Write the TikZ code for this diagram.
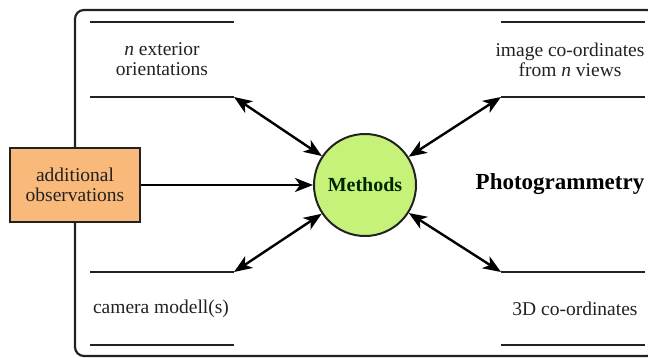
\documentclass[tikz,border=0pt]{standalone}
\usepackage{fontspec}
\setmainfont{Liberation Serif}
\usetikzlibrary{arrows.meta}
\definecolor{boxorange}{HTML}{F9B97A}
\definecolor{circgreen}{HTML}{C6F27A}
\definecolor{txt}{HTML}{222222}
\tikzset{
  sep/.style={line width=2.3pt, draw=txt},
  lbl/.style={align=center, text=txt, font=\fontsize{19.5}{19.5}\selectfont, inner sep=0pt},
  tip/.tip={Stealth[length=18pt,width=14pt,inset=5pt]},
  arr/.style={line width=2.4pt, draw=black, -tip},
  darr/.style={line width=2.4pt, draw=black, tip-tip},
}
\begin{document}
\begin{tikzpicture}[x=1pt,y=-1pt]
\useasboundingbox (0,0) rectangle (648,357);
% frame
\draw[line width=2.2pt, rounded corners=9pt, draw=txt] (75,10) rectangle (656,356);
% separator lines
\coordinate (tla) at (90,22);  \coordinate (tlb) at (234,22);
\coordinate (tlc) at (90,97);  \coordinate (tld) at (234,97);
\coordinate (tra) at (501,22); \coordinate (trb) at (645,22);
\coordinate (trc) at (501,97); \coordinate (trd) at (645,97);
\coordinate (bla) at (90,272); \coordinate (blb) at (234,272);
\coordinate (blc) at (90,345); \coordinate (bld) at (234,345);
\coordinate (bra) at (501,272);\coordinate (brb) at (645,272);
\coordinate (brc) at (501,345);\coordinate (brd) at (645,345);
\draw[sep] (tla) -- (tlb); \draw[sep] (tlc) -- (tld);
\draw[sep] (tra) -- (trb); \draw[sep] (trc) -- (trd);
\draw[sep] (bla) -- (blb); \draw[sep] (blc) -- (bld);
\draw[sep] (bra) -- (brb); \draw[sep] (brc) -- (brd);
% labels
\node[lbl] (ext) at (162,59) {\textit{n} exterior\\orientations};
\node[lbl] (img) at (570,60) {image co-ordinates\\from \textit{n} views};
\node[lbl] (cam) at (161,309) {camera modell(s)};
\node[lbl] (pts) at (575,309) {3D co-ordinates};
\node[text=black, font=\bfseries\fontsize{23}{23}\selectfont, inner sep=0pt] (photo) at (560,184) {Photogrammetry};
% box and circle
\node[draw=txt, line width=2pt, fill=boxorange, minimum width=130pt, minimum height=74pt, inner sep=0pt,
      align=center, text=txt, font=\fontsize{19.5}{20}\selectfont] (obs) at (75,185) {additional\\observations};
\node[circle, draw=txt, line width=2pt, fill=circgreen, minimum size=102pt, inner sep=0pt,
      text={black!85!green}, font=\bfseries\fontsize{20}{20}\selectfont] (methods) at (365,185) {Methods};
% arrows
\draw[arr] (obs.east) -- (methods.west);
\draw[darr] (tld) -- (methods);
\draw[darr] (trc) -- (methods);
\draw[darr] (blb) -- (methods);
\draw[darr] (bra) -- (methods);
\end{tikzpicture}
\end{document}
